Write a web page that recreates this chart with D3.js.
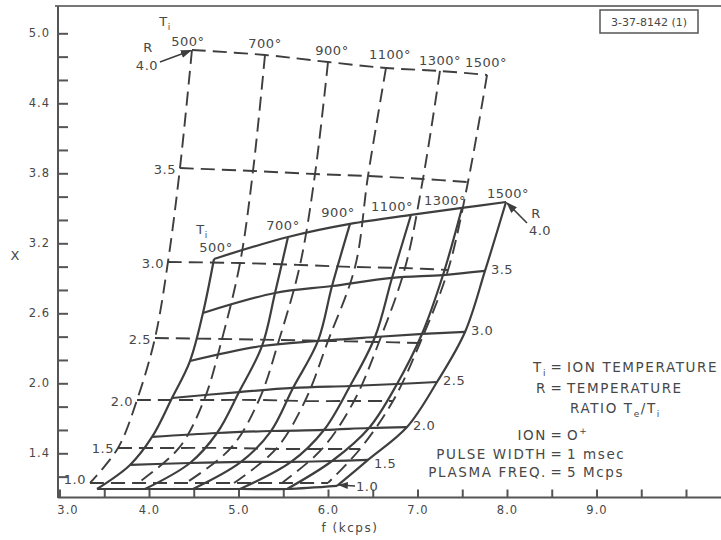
<!DOCTYPE html>
<html>
<head>
<meta charset="utf-8">
<script src="https://cdn.jsdelivr.net/npm/d3@7/dist/d3.min.js"></script>
<style>
body{margin:0;background:#fff;}
svg text{font-family:"DejaVu Sans",Arial,sans-serif;fill:#474747;}
</style>
</head>
<body>
<div id="chart"></div>
<script>
// ion temperature (deg) and temperature ratio R = Te/Ti
var tiValues = [500, 700, 900, 1100, 1300, 1500];
var rValues = [4.0, 3.5, 3.0, 2.5, 2.0, 1.5, 1.0];

// solid grid: one row per Ti, columns follow rValues
var solidF = [
	[4.726, 4.603, 4.458, 4.257, 4.034, 3.788, 3.419],
	[5.553, 5.408, 5.263, 5.006, 4.760, 4.458, 3.955],
	[6.246, 6.045, 5.888, 5.609, 5.363, 5.028, 4.492],
	[6.927, 6.715, 6.525, 6.246, 5.955, 5.587, 5.017],
	[7.497, 7.285, 7.050, 6.771, 6.458, 6.045, 5.542],
	[7.989, 7.754, 7.531, 7.218, 6.883, 6.447, 6.101]
];
var solidX = [
	[3.066, 2.603, 2.191, 1.874, 1.540, 1.300, 1.094],
	[3.254, 2.774, 2.320, 1.925, 1.574, 1.317, 1.094],
	[3.366, 2.834, 2.363, 1.960, 1.591, 1.326, 1.094],
	[3.443, 2.903, 2.397, 1.977, 1.600, 1.326, 1.094],
	[3.503, 2.928, 2.423, 1.994, 1.617, 1.334, 1.094],
	[3.554, 2.963, 2.440, 2.011, 1.625, 1.343, 1.120]
];

// dashed grid, same layout
var dashedF = [
	[4.480, 4.346, 4.212, 4.067, 3.866, 3.654, 3.341],
	[5.296, 5.162, 5.017, 4.816, 4.615, 4.335, 3.877],
	[6.000, 5.855, 5.687, 5.453, 5.229, 4.916, 4.413],
	[6.648, 6.447, 6.302, 6.000, 5.743, 5.419, 4.950],
	[7.251, 7.061, 6.860, 6.570, 6.291, 5.933, 5.486],
	[7.777, 7.564, 7.341, 7.028, 6.726, 6.358, 6.000]
];
var dashedX = [
	[4.857, 3.845, 3.040, 2.388, 1.857, 1.446, 1.146],
	[4.814, 3.820, 3.031, 2.380, 1.857, 1.446, 1.146],
	[4.754, 3.794, 3.014, 2.371, 1.857, 1.446, 1.146],
	[4.703, 3.777, 2.997, 2.363, 1.848, 1.437, 1.146],
	[4.677, 3.751, 2.988, 2.354, 1.848, 1.437, 1.146],
	[4.643, 3.725, 2.971, 2.345, 1.848, 1.437, 1.146]
];

var xTicks = [3.0, 3.5, 4.0, 4.5, 5.0, 5.5, 6.0, 6.5, 7.0, 7.5, 8.0, 8.5, 9.0, 9.5, 10.0];
var xTickLabels = [3.0, 4.0, 5.0, 6.0, 7.0, 8.0, 9.0];
var yTicks = [1.2, 1.4, 1.6, 1.8, 2.0, 2.2, 2.4, 2.6, 2.8, 3.0, 3.2, 3.4, 3.6, 3.8, 4.0, 4.2, 4.4, 4.6, 4.8, 5.0];
var yTickLabels = [1.4, 2.0, 2.6, 3.2, 3.8, 4.4, 5.0];

// label nudges (px) for the Ti captions
var dashedTiDx = [-4, 0, 4, 4, 0, -1], dashedTiDy = [-9, -12, -12, -14, -11, -13];
var solidTiDx = [2, -5, -12, -19, -17, 2], solidTiDy = [-11, -12, -11, -9, -8, -9];

var W = 721, H = 540;
var ink = '#3e3e3e';

var svg = d3.select('#chart').append('svg').attr('width', W).attr('height', H);

var x = d3.scaleLinear().domain([3, 10]).range([59.5, 686]);
var y = d3.scaleLinear().domain([1.4, 5.0]).range([453.3, 33.3]);

var defs = svg.append('defs');
defs.append('marker').attr('id', 'arr').attr('viewBox', '0 0 10 10')
	.attr('refX', 9).attr('refY', 5).attr('markerWidth', 7).attr('markerHeight', 7)
	.attr('orient', 'auto')
	.append('path').attr('d', 'M0,1.5L10,5L0,8.5z').attr('fill', ink);

// frame
var frame = svg.append('g').attr('stroke', '#555').attr('stroke-width', 2);
frame.append('line').attr('x1', 55).attr('x2', W).attr('y1', 6).attr('y2', 6).attr('stroke', '#777');
frame.append('line').attr('x1', 58).attr('x2', 58).attr('y1', 6).attr('y2', 498);
frame.append('line').attr('x1', 58).attr('x2', W).attr('y1', 497.5).attr('y2', 497.5);

// axes
var yAxis = d3.axisLeft(y).tickValues(yTicks).tickSizeInner(-10).tickSizeOuter(0).tickPadding(8)
	.tickFormat(function(d){ return yTickLabels.some(function(v){ return Math.abs(v - d) < 1e-6; }) ? d.toFixed(1) : ''; });
var gy = svg.append('g').attr('transform', 'translate(58,0)').call(yAxis);
gy.select('.domain').remove();
gy.selectAll('line').attr('stroke', '#555').attr('stroke-width', 2);
gy.selectAll('text').attr('font-size', 11.5).attr('letter-spacing', 1).attr('fill', '#474747');

var xAxis = d3.axisBottom(x).tickValues(xTicks).tickSizeInner(-8).tickSizeOuter(0).tickPadding(8)
	.tickFormat(function(d){ return xTickLabels.indexOf(d) >= 0 ? d.toFixed(1) : ''; });
var gx = svg.append('g').attr('transform', 'translate(0,497.5)').call(xAxis);
gx.select('.domain').remove();
gx.selectAll('line').attr('stroke', '#555').attr('stroke-width', 2);
gx.selectAll('text').attr('font-size', 11.5).attr('letter-spacing', 1).attr('fill', '#474747')
	.attr('dx', function(d){ return d === 3.0 ? 8 : 0; });

svg.append('text').attr('x', 15).attr('y', 260).attr('font-size', 13).attr('text-anchor', 'middle').text('X');
svg.append('text').attr('x', 350).attr('y', 532).attr('font-size', 12).attr('letter-spacing', 1.5)
	.attr('text-anchor', 'middle').text('f (kcps)');

// drawing id box
svg.append('rect').attr('x', 600).attr('y', 10).attr('width', 98).attr('height', 23)
	.attr('fill', 'none').attr('stroke', '#555').attr('stroke-width', 1.5);
svg.append('text').attr('x', 649).attr('y', 26).attr('font-size', 11).attr('text-anchor', 'middle')
	.attr('font-family', 'Liberation Sans Narrow, DejaVu Sans Condensed, sans-serif').text('3-37-8142 (1)');

var line = d3.line()
	.x(function(d){ return x(d.f); })
	.y(function(d){ return y(d.X); })
	.curve(d3.curveCatmullRom.alpha(0.5));

function tiCurve(F, X, i){
	return rValues.map(function(r, j){ return {f: F[i][j], X: X[i][j]}; });
}
function rCurve(F, X, j){
	return tiValues.map(function(t, i){ return {f: F[i][j], X: X[i][j]}; });
}

function drawGrid(F, X, dashed){
	var g = svg.append('g').attr('fill', 'none').attr('stroke', ink)
		.attr('stroke-width', dashed ? 1.9 : 2.2);
	if(dashed){ g.attr('stroke-dasharray', '14,7'); }
	tiValues.forEach(function(t, i){
		g.append('path').attr('d', line(tiCurve(F, X, i)));
	});
	rValues.forEach(function(r, j){
		g.append('path').attr('d', line(rCurve(F, X, j)));
	});
}
drawGrid(dashedF, dashedX, true);
drawGrid(solidF, solidX, false);

function deg(t){ return t + '\u00b0'; }
var lab = svg.append('g').attr('font-size', 13).attr('letter-spacing', 0.5);

// dashed grid captions
tiValues.forEach(function(t, i){
	lab.append('text').attr('x', x(dashedF[i][0]) + dashedTiDx[i]).attr('y', y(dashedX[i][0]) + dashedTiDy[i])
		.attr('dy', '0.35em').attr('text-anchor', 'middle').text(deg(t));
});
rValues.forEach(function(r, j){
	if(j === 0) return;
	lab.append('text').attr('x', x(dashedF[0][j]) - 4).attr('y', y(dashedX[0][j]) + (j === 6 ? -3 : 1))
		.attr('dy', '0.35em').attr('text-anchor', 'end').text(r.toFixed(1));
});
var d0x = x(dashedF[0][0]), d0y = y(dashedX[0][0]);
lab.append('text').attr('x', d0x - 27).attr('y', d0y - 24).attr('text-anchor', 'middle')
	.text('T').append('tspan').attr('font-size', 9).attr('dy', 4).text('i');
lab.append('text').attr('x', d0x - 44).attr('y', d0y - 3).attr('dy', '0.35em').attr('text-anchor', 'middle').text('R');
lab.append('text').attr('x', d0x - 45).attr('y', d0y + 15).attr('dy', '0.35em').attr('text-anchor', 'middle').text('4.0');
svg.append('line').attr('x1', d0x - 32).attr('y1', d0y + 12).attr('x2', d0x - 1).attr('y2', d0y + 0.5)
	.attr('stroke', ink).attr('stroke-width', 1.6).attr('marker-end', 'url(#arr)');

// solid grid captions
tiValues.forEach(function(t, i){
	lab.append('text').attr('x', x(solidF[i][0]) + solidTiDx[i]).attr('y', y(solidX[i][0]) + solidTiDy[i])
		.attr('dy', '0.35em').attr('text-anchor', 'middle').text(deg(t));
});
var s0x = x(solidF[0][0]), s0y = y(solidX[0][0]);
lab.append('text').attr('x', s0x - 12).attr('y', s0y - 25).attr('text-anchor', 'middle')
	.text('T').append('tspan').attr('font-size', 9).attr('dy', 4).text('i');
var last = tiValues.length - 1;
rValues.forEach(function(r, j){
	if(j === 0 || j === rValues.length - 1) return;
	lab.append('text').attr('x', x(solidF[last][j]) + 6).attr('y', y(solidX[last][j]) + (j === 5 ? 3 : -2))
		.attr('dy', '0.35em').attr('text-anchor', 'start').text(r.toFixed(1));
});
var s5x = x(solidF[last][0]), s5y = y(solidX[last][0]);
lab.append('text').attr('x', s5x + 30).attr('y', s5y + 11).attr('dy', '0.35em').attr('text-anchor', 'middle').text('R');
lab.append('text').attr('x', s5x + 34).attr('y', s5y + 28).attr('dy', '0.35em').attr('text-anchor', 'middle').text('4.0');
svg.append('line').attr('x1', s5x + 21).attr('y1', s5y + 21).attr('x2', s5x + 1).attr('y2', s5y + 1)
	.attr('stroke', ink).attr('stroke-width', 1.6).attr('marker-end', 'url(#arr)');
var s6x = x(solidF[last][6]), s6y = y(solidX[last][6]);
lab.append('text').attr('x', s6x + 19).attr('y', s6y).attr('dy', '0.35em').attr('text-anchor', 'start').text('1.0');
svg.append('line').attr('x1', s6x + 18).attr('y1', s6y).attr('x2', s6x + 2).attr('y2', s6y - 1)
	.attr('stroke', ink).attr('stroke-width', 1.4).attr('marker-end', 'url(#arr)');

// notes
var notes = svg.append('g').attr('font-size', 13.5).attr('letter-spacing', 1.6);
function noteRow(yy, left, right){
	var tl = notes.append('text').attr('x', 547).attr('y', yy).attr('dy', '0.35em').attr('text-anchor', 'end');
	left(tl);
	notes.append('text').attr('x', 557).attr('y', yy).attr('dy', '0.35em').attr('text-anchor', 'middle').text('=');
	var tr = notes.append('text').attr('x', 567).attr('y', yy).attr('dy', '0.35em');
	right(tr);
}
noteRow(367, function(t){ t.text('T').append('tspan').attr('font-size', 9).attr('dy', 4).text('i'); },
	function(t){ t.text('ION TEMPERATURE'); });
noteRow(388, function(t){ t.text('R'); }, function(t){ t.text('TEMPERATURE'); });
var r3 = notes.append('text').attr('x', 570).attr('y', 408).attr('dy', '0.35em').text('RATIO T');
r3.append('tspan').attr('font-size', 9).attr('dy', 4).text('e');
r3.append('tspan').attr('dy', -4).text('/T');
r3.append('tspan').attr('font-size', 9).attr('dy', 4).text('i');
noteRow(435, function(t){ t.text('ION'); },
	function(t){ t.text('O'); t.append('tspan').attr('font-size', 9).attr('dy', -6).text('+'); });
noteRow(454, function(t){ t.text('PULSE WIDTH'); }, function(t){ t.text('1 msec'); });
noteRow(472, function(t){ t.text('PLASMA FREQ.'); }, function(t){ t.text('5 Mcps'); });
</script>
</body>
</html>
